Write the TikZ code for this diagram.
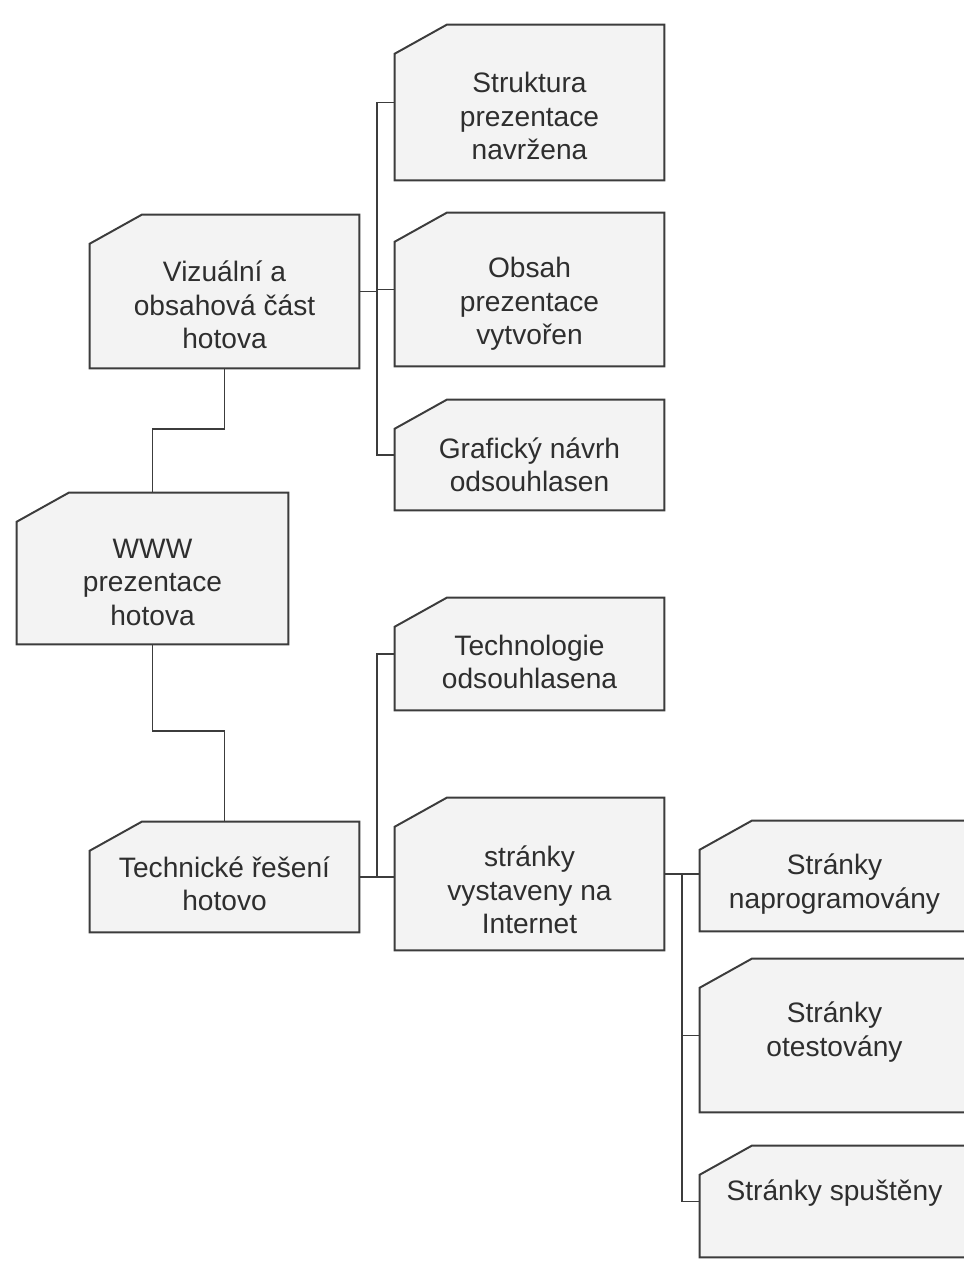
\documentclass[tikz,border=0pt]{standalone}
\usepackage{fontspec}
\setmainfont{Liberation Sans}
\usetikzlibrary{positioning, backgrounds}
\definecolor{boxfill}{HTML}{F3F3F3}
\definecolor{boxline}{HTML}{3C3C3C}
\definecolor{txtgray}{HTML}{2E2E2E}
\newlength\pxl
\setlength\pxl{0.025cm}

\begin{document}
\begin{tikzpicture}[x=\pxl, y=-\pxl,
    task/.style={rectangle, minimum width=269\pxl, inner sep=0pt},
    tasktext/.style={align=center, font=\fontsize{20}{23.8}\selectfont, text=txtgray},
    link/.style={draw=boxline, line width=1.4pt}]
    \useasboundingbox (0,0) rectangle (964,1263);

    % top branch
    \node[task, minimum height=155\pxl, label={[tasktext, yshift=-13.5\pxl]center:Struktura\\prezentace\\navržena}] (str) at (529.5,102.5) {};
    \node[task, minimum height=153\pxl, label={[tasktext, yshift=-14.5\pxl]center:Obsah\\prezentace\\vytvořen}] (obs) at (529.5,289.5) {};
    \node[task, minimum height=110\pxl, label={[tasktext, yshift=-10\pxl]center:Grafický návrh\\odsouhlasen}] (gra) at (529.5,455) {};
    \node[task, minimum height=153\pxl, label={[tasktext, yshift=-13.5\pxl]center:Vizuální a\\obsahová část\\hotova}] (vis) at (224.5,291.5) {};

    % root
    \node[task, minimum width=271\pxl, minimum height=151\pxl, label={[tasktext, yshift=-13.5\pxl]center:WWW\\prezentace\\hotova}] (www) at (152.5,568.5) {};

    % bottom branch
    \node[task, minimum height=112\pxl, label={[tasktext, yshift=-8\pxl]center:Technologie\\odsouhlasena}] (tec) at (529.5,654) {};
    \node[task, minimum height=110\pxl, label={[tasktext, yshift=-7\pxl]center:Technické řešení\\hotovo}] (tech) at (224.5,877) {};
    \node[task, minimum height=152\pxl, label={[tasktext, yshift=-16\pxl]center:stránky\\vystaveny na\\Internet}] (vys) at (529.5,874) {};
    \node[task, minimum height=110\pxl, label={[tasktext, yshift=-8\pxl]center:Stránky\\naprogramovány}] (nap) at (834.5,876) {};
    \node[task, minimum height=153\pxl, label={[tasktext, yshift=3.5\pxl]center:Stránky\\otestovány}] (ote) at (834.5,1035.5) {};
    \node[task, minimum height=111\pxl, label={[tasktext, yshift=8.5\pxl]center:Stránky spuštěny}] (spu) at (834.5,1201.5) {};

    % cut corner boxes
    \begin{scope}[on background layer]
        \foreach \n in {str,obs,gra,vis,www,tec,tech,vys,nap,ote,spu}
            \filldraw[link, fill=boxfill] (\n.south west) -- ([yshift=-29\pxl]\n.north west) -- ([xshift=52\pxl]\n.north west) -- (\n.north east) -- (\n.south east) -- cycle;
    \end{scope}

    % connectors
    \draw[link] (vis.south) -- ++(0,61) -| (www.north);
    \draw[link] (www.south) -- ++(0,87) -| (tech.north);

    \draw[link] (vis.east) -- ++(18,0) coordinate (busA);
    \draw[link] (str.west) -| (busA) |- (gra.west);
    \draw[link] (obs.west) -- (obs.west -| busA);

    \draw[link] (tech.east) -- (tech.east -| vys.west);
    \draw[link] (tec.west) -| ([xshift=18\pxl]tech.east);

    \draw[link] (vys.east) -- (vys.east -| nap.west);
    \draw[link] ([xshift=18\pxl]vys.east) coordinate (busC) |- (ote.west);
    \draw[link] (busC) |- (spu.west);
\end{tikzpicture}
\end{document}
